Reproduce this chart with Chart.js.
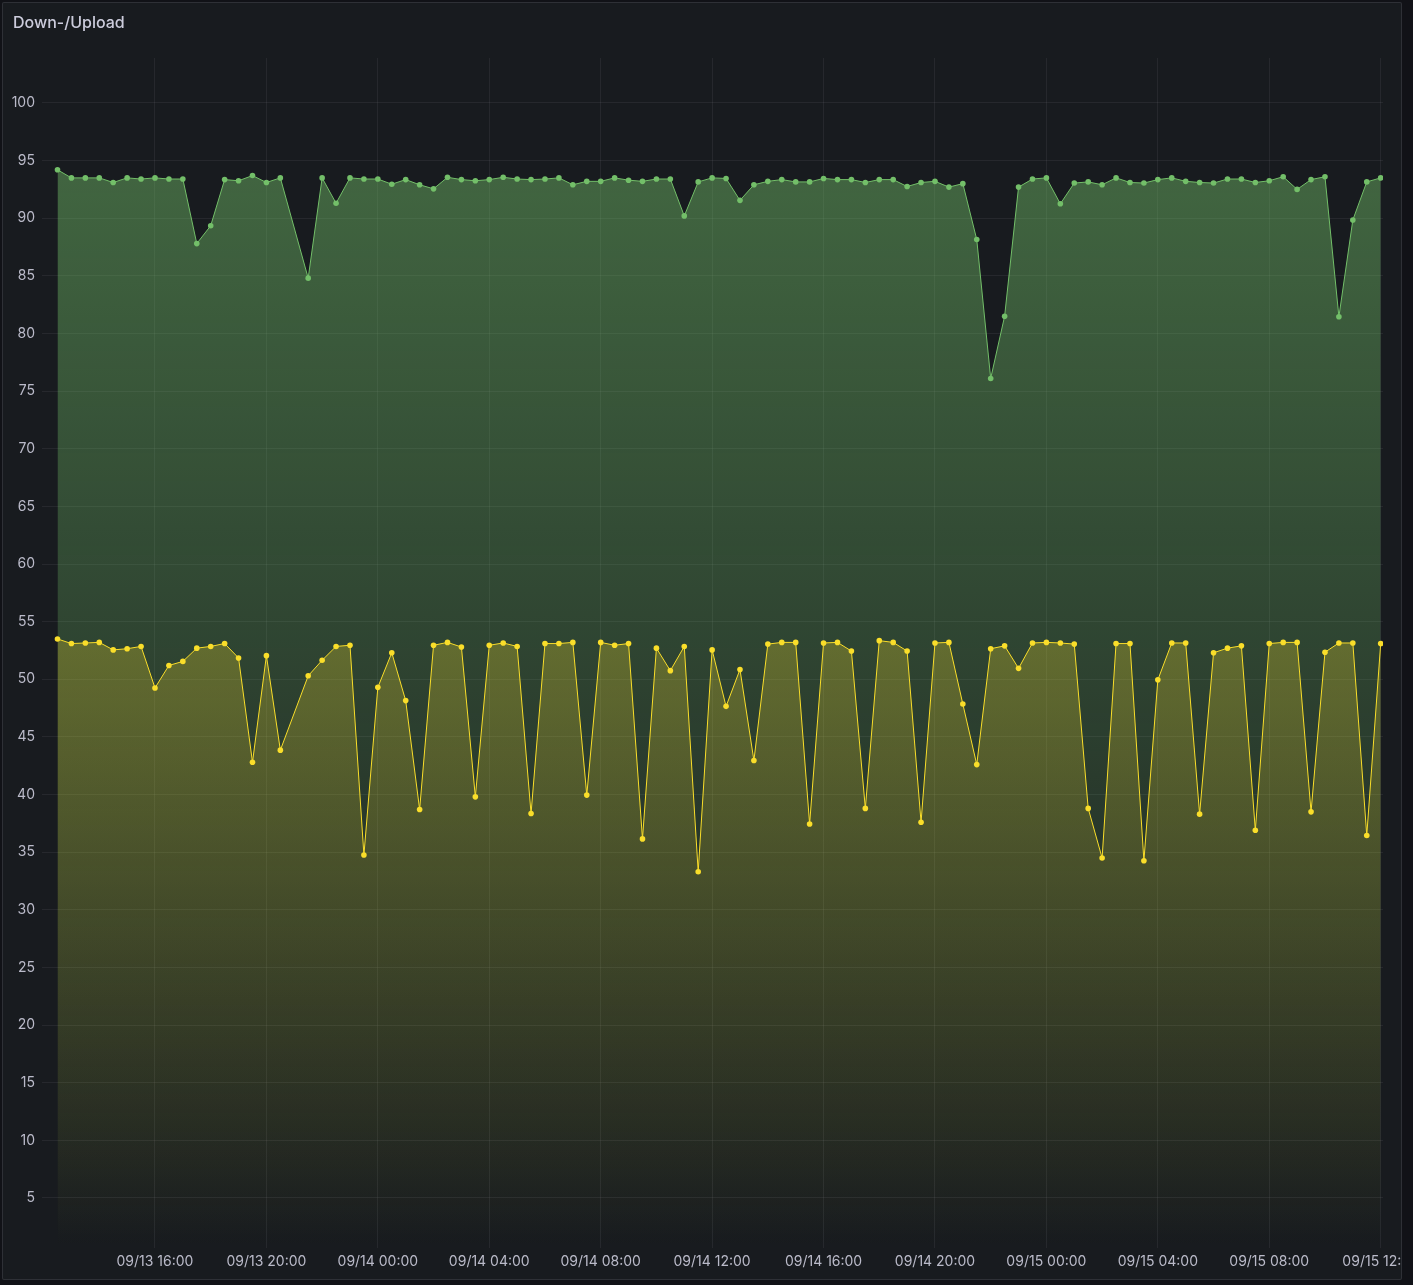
<!DOCTYPE html>
<html>
<head>
<meta charset="utf-8">
<title>Down-/Upload</title>
<script src="https://cdn.jsdelivr.net/npm/chart.js@4.4.1/dist/chart.umd.min.js"></script>
<style>
    body {
        margin: 0;
        background: #111217;
        font-family: Inter, 'Noto Sans', sans-serif;
    }
    .panel {
        position: absolute;
        left: 2px;
        top: 2px;
        width: 1398px;
        height: 1276px;
        background: #181b1f;
        border: 1px solid rgba(204, 204, 220, 0.12);
        border-radius: 2px;
        overflow: hidden;
    }
    .panel-title {
        position: absolute;
        left: 10px;
        top: 9px;
        color: #ccccdc;
        font-size: 16px;
        font-weight: 500;
        z-index: 2;
    }
    .chart-wrap {
        position: absolute;
        left: -3px;
        top: -3px;
        width: 1413px;
        height: 1285px;
    }
</style>
</head>
<body>
<div class="panel">
    <div class="panel-title">Down-/Upload</div>
    <div class="chart-wrap"><canvas id="speedChart"></canvas></div>
</div>

<script>
// Sample times (every ~30 min, one sample missing at 09/13 21:00)
const sampleTimes = [
    '09/13 12:30', '09/13 13:00', '09/13 13:30', '09/13 14:00', '09/13 14:30', '09/13 15:00',
    '09/13 15:30', '09/13 16:00', '09/13 16:30', '09/13 17:00', '09/13 17:30', '09/13 18:00',
    '09/13 18:30', '09/13 19:00', '09/13 19:30', '09/13 20:00', '09/13 20:30',
    '09/13 21:30', '09/13 22:00', '09/13 22:30', '09/13 23:00', '09/13 23:30',
    '09/14 00:00', '09/14 00:30', '09/14 01:00', '09/14 01:30', '09/14 02:00', '09/14 02:30',
    '09/14 03:00', '09/14 03:30', '09/14 04:00', '09/14 04:30', '09/14 05:00', '09/14 05:30',
    '09/14 06:00', '09/14 06:30', '09/14 07:00', '09/14 07:30', '09/14 08:00', '09/14 08:30',
    '09/14 09:00', '09/14 09:30', '09/14 10:00', '09/14 10:30', '09/14 11:00', '09/14 11:30',
    '09/14 12:00', '09/14 12:30', '09/14 13:00', '09/14 13:30', '09/14 14:00', '09/14 14:30',
    '09/14 15:00', '09/14 15:30', '09/14 16:00', '09/14 16:30', '09/14 17:00', '09/14 17:30',
    '09/14 18:00', '09/14 18:30', '09/14 19:00', '09/14 19:30', '09/14 20:00', '09/14 20:30',
    '09/14 21:00', '09/14 21:30', '09/14 22:00', '09/14 22:30', '09/14 23:00', '09/14 23:30',
    '09/15 00:00', '09/15 00:30', '09/15 01:00', '09/15 01:30', '09/15 02:00', '09/15 02:30',
    '09/15 03:00', '09/15 03:30', '09/15 04:00', '09/15 04:30', '09/15 05:00', '09/15 05:30',
    '09/15 06:00', '09/15 06:30', '09/15 07:00', '09/15 07:30', '09/15 08:00', '09/15 08:30',
    '09/15 09:00', '09/15 09:30', '09/15 10:00', '09/15 10:30', '09/15 11:00', '09/15 11:30',
    '09/15 12:00'
];

// Download speed (green)
const downloadValues = [
    94.2, 93.5, 93.5, 93.5, 93.1, 93.5, 93.4, 93.5, 93.4, 93.4, 87.8, 89.35,
    93.35, 93.25, 93.7, 93.1, 93.5, 84.8, 93.5, 91.3, 93.5, 93.4, 93.4,
    92.95, 93.35, 92.9, 92.55, 93.55, 93.35, 93.25, 93.35, 93.55, 93.4, 93.35, 93.4,
    93.5, 92.9, 93.2, 93.2, 93.5, 93.3, 93.2, 93.4, 93.4, 90.2, 93.15, 93.5, 93.45,
    91.55, 92.9, 93.2, 93.35, 93.15, 93.15, 93.45, 93.35, 93.35, 93.1, 93.35, 93.35,
    92.75, 93.1, 93.2, 92.7, 93.0, 88.15, 76.1, 81.5, 92.7, 93.4, 93.5, 91.25,
    93.05, 93.15, 92.9, 93.5, 93.1, 93.05, 93.35, 93.5, 93.2, 93.1, 93.05, 93.4,
    93.4, 93.1, 93.25, 93.6, 92.5, 93.35, 93.6, 81.45, 89.85, 93.15, 93.5
];

// Upload speed (yellow)
const uploadValues = [
    53.5, 53.1, 53.15, 53.2, 52.55, 52.65, 52.85, 49.25, 51.2, 51.55, 52.7, 52.85,
    53.1, 51.85, 42.8, 52.05, 43.85, 50.3, 51.65, 52.85, 52.95, 34.75, 49.3,
    52.3, 48.15, 38.7, 52.95, 53.2, 52.8, 39.8, 52.95, 53.15, 52.85, 38.35, 53.1,
    53.1, 53.2, 39.95, 53.2, 52.95, 53.1, 36.15, 52.7, 50.75, 52.85, 33.3, 52.55, 47.65,
    50.85, 42.95, 53.05, 53.2, 53.2, 37.45, 53.15, 53.2, 52.45, 38.8, 53.35, 53.2,
    52.45, 37.6, 53.15, 53.2, 47.85, 42.6, 52.65, 52.9, 50.95, 53.15, 53.2, 53.15,
    53.05, 38.8, 34.5, 53.1, 53.1, 34.25, 49.95, 53.15, 53.15, 38.3, 52.3, 52.7,
    52.9, 36.9, 53.1, 53.2, 53.2, 38.5, 52.35, 53.15, 53.15, 36.45, 53.1
];

// Axis ticks
const xTickHours = [16, 20, 24, 28, 32, 36, 40, 44, 48, 52, 56, 60];
const yTickValues = [5, 10, 15, 20, 25, 30, 35, 40, 45, 50, 55, 60, 65, 70, 75, 80, 85, 90, 95, 100];

const GREEN = '#73bf69';
const YELLOW = '#fade2a';
const TEXT = 'rgba(204, 204, 220, 0.9)';
const GRID = 'rgba(204, 204, 220, 0.08)';

// hours since 09/13 00:00
function toHours(label) {
    const [date, time] = label.split(' ');
    const day = parseInt(date.split('/')[1], 10);
    const [h, m] = time.split(':').map(Number);
    return (day - 13) * 24 + h + m / 60;
}

function formatHour(value) {
    const day = 13 + Math.floor(value / 24);
    const hour = value % 24;
    return `09/${day} ${String(hour).padStart(2, '0')}:00`;
}

function fadeFill(rgb) {
    return (context) => {
        const area = context.chart.chartArea;
        if (!area) return 'transparent';
        const g = context.chart.ctx.createLinearGradient(0, area.top, 0, area.bottom);
        g.addColorStop(0, `rgba(${rgb}, 0.5)`);
        g.addColorStop(1, `rgba(${rgb}, 0)`);
        return g;
    };
}

const toPoints = (values) => values.map((v, i) => ({ x: toHours(sampleTimes[i]), y: v }));

new Chart(document.getElementById('speedChart'), {
    type: 'line',
    data: {
        datasets: [
            {
                label: 'Upload',
                data: toPoints(uploadValues),
                borderColor: YELLOW,
                backgroundColor: fadeFill('250, 222, 42'),
                pointBackgroundColor: YELLOW,
                borderWidth: 1,
                pointRadius: 2.8,
                pointBorderWidth: 0,
                fill: 'origin',
                tension: 0
            },
            {
                label: 'Download',
                data: toPoints(downloadValues),
                borderColor: GREEN,
                backgroundColor: fadeFill('115, 191, 105'),
                pointBackgroundColor: GREEN,
                borderWidth: 1,
                pointRadius: 2.8,
                pointBorderWidth: 0,
                fill: 'origin',
                tension: 0
            }
        ]
    },
    options: {
        responsive: true,
        maintainAspectRatio: false,
        animation: false,
        layout: { padding: { top: 58, right: 30, left: 0, bottom: 0 } },
        plugins: {
            legend: { display: false },
            tooltip: { enabled: false }
        },
        scales: {
            x: {
                type: 'linear',
                min: 11.944,
                max: 60.083,
                afterBuildTicks: (scale) => {
                    scale.ticks = xTickHours.map(v => ({ value: v }));
                },
                afterFit: (scale) => {
                    scale.height = 37;
                    scale.paddingLeft = 0;
                    scale.paddingRight = 0;
                },
                ticks: {
                    autoSkip: false,
                    maxRotation: 0,
                    padding: 5,
                    color: TEXT,
                    font: { family: 'Inter', size: 14 },
                    callback: (value) => formatHour(value)
                },
                grid: { color: GRID, drawTicks: false },
                border: { display: false }
            },
            y: {
                min: 0.66,
                max: 103.9,
                afterBuildTicks: (scale) => {
                    scale.ticks = yTickValues.map(v => ({ value: v }));
                },
                afterFit: (scale) => {
                    scale.width = 42;
                },
                ticks: {
                    padding: 7,
                    color: TEXT,
                    font: { family: 'Inter', size: 14 }
                },
                grid: { color: GRID, drawTicks: false },
                border: { display: false }
            }
        }
    }
});
</script>
</body>
</html>
